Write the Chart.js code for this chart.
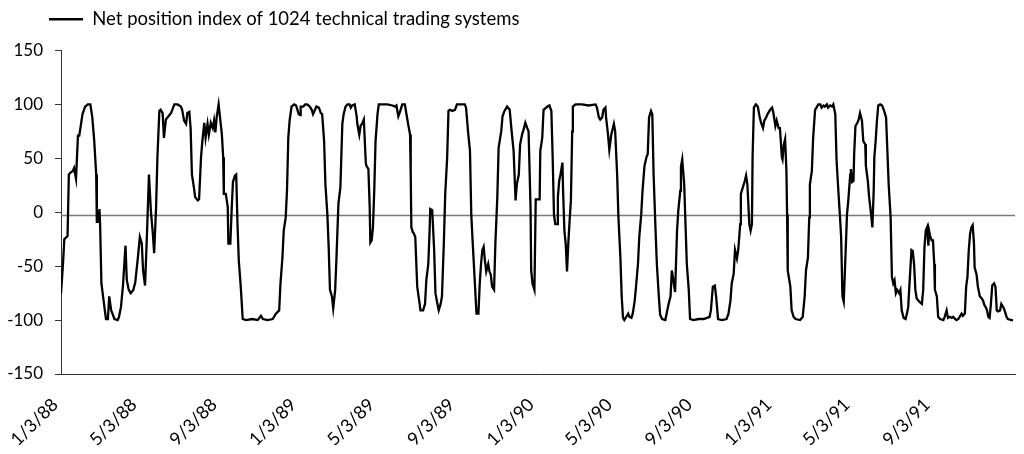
<!DOCTYPE html>
<html>
<head>
<meta charset="utf-8">
<title>Net position index</title>
<script src="https://cdn.jsdelivr.net/npm/chart.js@4.4.1/dist/chart.umd.min.js"></script>
<style>
    html, body { margin: 0; padding: 0; background: #fff; }
    #wrap { width: 1024px; height: 454px; }
</style>
</head>
<body>
<div id="wrap"><canvas id="netChart" width="1024" height="454"></canvas></div>
<script>
// calendar days counted from 1/3/88
const sampleDays = [
    0, 3, 5, 10, 12, 15, 18, 20, 23, 26, 28, 31, 33, 37, 41, 45, 48, 51, 54, 55, 57, 59, 60, 62, 66, 69, 72, 74, 77, 79,
    82, 87, 89, 92, 95, 99, 101, 104, 107, 111, 114, 118, 121, 124, 126, 129, 132, 135, 138, 141, 143, 146, 148, 151, 153, 156, 158, 161, 165, 169,
    174, 179, 184, 186, 189, 192, 194, 197, 199, 201, 204, 206, 210, 212, 215, 217, 220, 222, 225, 227, 230, 233, 235, 237, 239, 242, 244, 247, 249, 250,
    253, 256, 257, 260, 262, 264, 267, 269, 271, 273, 276, 279, 284, 294, 302, 307, 310, 317, 325, 330, 335, 337, 340, 342, 345, 347, 349, 351, 354, 358,
    361, 365, 367, 368, 372, 375, 378, 382, 385, 387, 390, 392, 396, 399, 401, 404, 406, 409, 411, 413, 416, 418, 421, 423, 426, 429, 432, 434, 437, 440,
    443, 445, 447, 451, 454, 455, 458, 460, 463, 465, 468, 469, 472, 474, 475, 477, 479, 481, 483, 486, 488, 493, 501, 509, 513, 515, 518, 521, 524, 528,
    531, 533, 536, 537, 538, 540, 542, 544, 547, 550, 552, 556, 559, 561, 564, 566, 567, 570, 573, 575, 578, 580, 583, 585, 588, 590, 593, 595, 597, 601,
    605, 608, 613, 620, 622, 625, 628, 630, 632, 635, 638, 641, 643, 645, 647, 649, 651, 653, 656, 658, 660, 662, 665, 667, 670, 672, 676, 678, 681, 685,
    689, 692, 695, 698, 700, 703, 705, 708, 711, 713, 716, 718, 721, 722, 724, 727, 729, 731, 735, 736, 739, 741, 747, 750, 753, 755, 757, 759, 762, 763,
    765, 767, 770, 771, 773, 775, 777, 779, 781, 783, 785, 786, 790, 800, 810, 821, 823, 826, 828, 831, 833, 836, 837, 840, 842, 845, 849, 851, 854, 856,
    859, 861, 863, 865, 868, 871, 873, 876, 878, 881, 883, 886, 888, 891, 893, 896, 899, 901, 903, 906, 908, 910, 913, 915, 918, 920, 923, 928, 930, 933,
    936, 938, 941, 943, 946, 948, 951, 952, 954, 957, 959, 961, 964, 966, 971, 979, 987, 992, 996, 998, 1001, 1004, 1006, 1009, 1015, 1022, 1025, 1028, 1030, 1033,
    1035, 1038, 1040, 1043, 1044, 1047, 1050, 1052, 1054, 1057, 1059, 1061, 1062, 1064, 1067, 1070, 1073, 1075, 1078, 1080, 1083, 1085, 1089, 1092, 1094, 1097, 1099, 1102, 1104, 1107,
    1108, 1110, 1112, 1114, 1115, 1116, 1120, 1122, 1125, 1128, 1135, 1139, 1142, 1144, 1147, 1149, 1150, 1153, 1155, 1158, 1161, 1163, 1166, 1168, 1171, 1173, 1176, 1178, 1181, 1184,
    1186, 1189, 1191, 1194, 1196, 1198, 1200, 1202, 1205, 1207, 1209, 1212, 1213, 1215, 1217, 1218, 1220, 1223, 1225, 1227, 1230, 1232, 1235, 1236, 1239, 1241, 1244, 1246, 1248, 1249,
    1251, 1253, 1255, 1258, 1261, 1264, 1267, 1269, 1271, 1274, 1276, 1278, 1280, 1282, 1284, 1287, 1289, 1291, 1294, 1297, 1299, 1301, 1303, 1306, 1308, 1310, 1312, 1314, 1318, 1322,
    1324, 1326, 1328, 1330, 1332, 1333, 1335, 1337, 1339, 1341, 1342, 1345, 1347, 1350, 1355, 1357, 1360, 1362, 1365, 1368, 1370, 1373, 1375, 1378, 1380, 1383, 1385, 1388, 1390, 1392,
    1394, 1396, 1398, 1400, 1402, 1403, 1406, 1408, 1411, 1414, 1416, 1418, 1420, 1422, 1424, 1426, 1428, 1430, 1433, 1435, 1437, 1439, 1442, 1444, 1447, 1449, 1452, 1454, 1460, 1462
];

// net position index, -100 = all systems short, 100 = all long
const netPosition = [
    -75, -48, -25, -22, 35, 37, 38, 41, 31, 71, 71, 83, 91, 98, 100, 100, 88, 66, 35, -9, -9, 3, -11, -66, -85, -99, -99, -78, -91, -94,
    -99, -100, -97, -88, -69, -31, -63, -72, -75, -72, -65, -42, -23, -29, -54, -68, -20, 35, 1, -20, -38, 5, 51, 94, 95, 92, 69, 86, 89, 92,
    100, 100, 98, 95, 85, 82, 92, 93, 78, 35, 23, 14, 11, 12, 51, 66, 83, 69, 82, 72, 83, 78, 85, 74, 88, 100, 89, 72, 51, 17,
    17, 5, -29, -29, 2, 28, 34, 35, -11, -45, -69, -99, -100, -99, -100, -96, -99, -100, -99, -94, -91, -66, -42, -17, -5, 20, 69, 85, 98, 100,
    99, 91, 90, 98, 98, 100, 100, 98, 95, 91, 95, 98, 97, 92, 91, 66, 26, -2, -32, -72, -78, -89, -72, -42, 8, 23, 82, 91, 98, 100,
    100, 97, 99, 100, 89, 82, 72, 80, 83, 86, 46, 43, 40, 5, -28, -26, -14, 20, 66, 91, 100, 100, 100, 99, 98, 99, 89, 94, 100, 100,
    89, 82, 72, 35, -14, -18, -20, -23, -69, -82, -91, -91, -85, -63, -48, -17, 3, 2, -35, -75, -85, -91, -85, -78, -26, 17, 51, 94, 95, 94,
    95, 100, 100, 100, 97, 75, 57, -2, -26, -60, -94, -94, -66, -48, -35, -32, -45, -55, -48, -55, -58, -69, -72, -29, 14, 60, 75, 89, 94, 98,
    95, 75, 57, 11, 26, 35, 63, 72, 78, 83, 78, 75, 5, -54, -66, -72, 12, 12, 12, 57, 69, 95, 98, 99, 94, 51, -2, -11, -11, 14,
    29, 35, 46, 20, -17, -29, -55, -29, -8, 11, 75, 98, 100, 100, 99, 100, 97, 88, 86, 88, 95, 97, 88, 72, 58, 72, 82, 75, 35, -5,
    -42, -78, -98, -100, -97, -94, -97, -98, -94, -82, -69, -48, -23, -2, 20, 43, 51, 54, 88, 94, 91, 35, -17, -48, -78, -95, -99, -100, -94, -85,
    -78, -54, -66, -74, -17, 2, 20, 42, 49, 26, -11, -48, -72, -99, -100, -99, -99, -98, -97, -91, -69, -68, -78, -99, -100, -99, -94, -82, -66, -57,
    -35, -43, -35, -11, 17, 23, 29, 34, 26, -11, -17, -11, 51, 97, 100, 98, 88, 83, 78, 85, 88, 91, 95, 97, 92, 80, 85, 78, 78, 51,
    49, 63, 68, 38, -2, -54, -69, -91, -97, -99, -100, -97, -78, -54, -42, -5, 26, 38, 69, 95, 98, 100, 100, 97, 99, 98, 100, 97, 99, 98,
    100, 91, 48, 17, -2, -23, -78, -83, -35, -2, 11, 35, 40, 28, 29, 54, 80, 83, 86, 92, 85, 66, 63, 43, 29, 14, -2, -14, 20, 51,
    66, 85, 99, 100, 99, 94, 88, 57, 26, -5, -60, -66, -63, -75, -72, -75, -72, -91, -98, -99, -94, -88, -66, -35, -36, -48, -72, -80, -83, -85,
    -72, -32, -17, -14, -31, -17, -23, -26, -26, -48, -72, -78, -97, -99, -100, -97, -91, -98, -97, -98, -97, -99, -100, -99, -97, -94, -96, -94, -69, -60,
    -35, -20, -14, -12, -29, -51, -58, -69, -78, -80, -82, -86, -88, -91, -97, -98, -85, -68, -66, -69, -91, -92, -91, -85, -88, -91, -97, -99, -100, -100
];

// axis labels every four months
const tickDays = [0, 121, 244, 366, 486, 609, 731, 851, 974, 1096, 1216, 1339];
const tickLabels = ['1/3/88', '5/3/88', '9/3/88', '1/3/89', '5/3/89', '9/3/89',
    '1/3/90', '5/3/90', '9/3/90', '1/3/91', '5/3/91', '9/3/91'];

const lastDay = 1465;
const zeroLevel = -3;
const seriesName = 'Net position index of 1024 technical trading systems';

// legend sits a bit right of the canvas edge and leaves a gap above the plot
const legendPlace = {
    id: 'legendPlace',
    beforeLayout(chart) {
        const lg = chart.legend;
        if (lg && !lg._placed) {
            const fit = lg.fit.bind(lg);
            lg.fit = function() {
                fit();
                this.height += 12;
            };
            lg._placed = true;
        }
    },
    afterLayout(chart) {
        if (chart.legend) {
            chart.legend.left += 39;
        }
    }
};

document.addEventListener("DOMContentLoaded", function() {
    const points = sampleDays.map((d, i) => ({ x: d, y: netPosition[i] }));
    const fontName = 'Lato, "Open Sans", sans-serif';

    const ctx = document.getElementById('netChart').getContext('2d');
    const netChart = new Chart(ctx, {
        type: 'line',
        data: {
            datasets: [{
                label: seriesName,
                data: points,
                borderColor: '#000',
                backgroundColor: '#000',
                borderWidth: 2.3,
                pointRadius: 0,
                tension: 0,
                fill: false
            }, {
                label: 'zero',
                data: [{ x: 0, y: zeroLevel }, { x: lastDay, y: zeroLevel }],
                borderColor: '#7a7a7a',
                borderWidth: 1.5,
                pointRadius: 0,
                fill: false
            }]
        },
        plugins: [legendPlace],
        options: {
            responsive: false,
            animation: false,
            layout: { padding: { left: 0, right: 9, top: 0, bottom: 0 } },
            plugins: {
                tooltip: { enabled: false },
                legend: {
                    position: 'top',
                    align: 'start',
                    labels: {
                        usePointStyle: true,
                        pointStyle: 'line',
                        pointStyleWidth: 34,
                        color: '#000',
                        padding: 10,
                        font: { family: fontName, size: 18.5 },
                        filter: item => item.datasetIndex === 0
                    }
                }
            },
            scales: {
                x: {
                    type: 'linear',
                    min: 0,
                    max: lastDay,
                    afterFit: s => { s.height = 80; },
                    afterBuildTicks: s => { s.ticks = tickDays.map(v => ({ value: v })); },
                    grid: { drawOnChartArea: false, drawTicks: false },
                    border: { display: true, color: '#333', width: 1 },
                    ticks: {
                        autoSkip: false,
                        minRotation: 45,
                        maxRotation: 45,
                        padding: 20,
                        labelOffset: -6,
                        color: '#000',
                        font: { family: fontName, size: 18 },
                        callback: (v, i) => tickLabels[i]
                    }
                },
                y: {
                    min: -150,
                    max: 150,
                    afterFit: s => { s.width = 60; },
                    grid: { drawOnChartArea: false, tickLength: 6, color: '#333' },
                    border: { display: true, color: '#333', width: 1 },
                    ticks: {
                        stepSize: 50,
                        padding: 12,
                        color: '#000',
                        font: { family: fontName, size: 17 }
                    }
                }
            }
        }
    });
});
</script>
</body>
</html>
